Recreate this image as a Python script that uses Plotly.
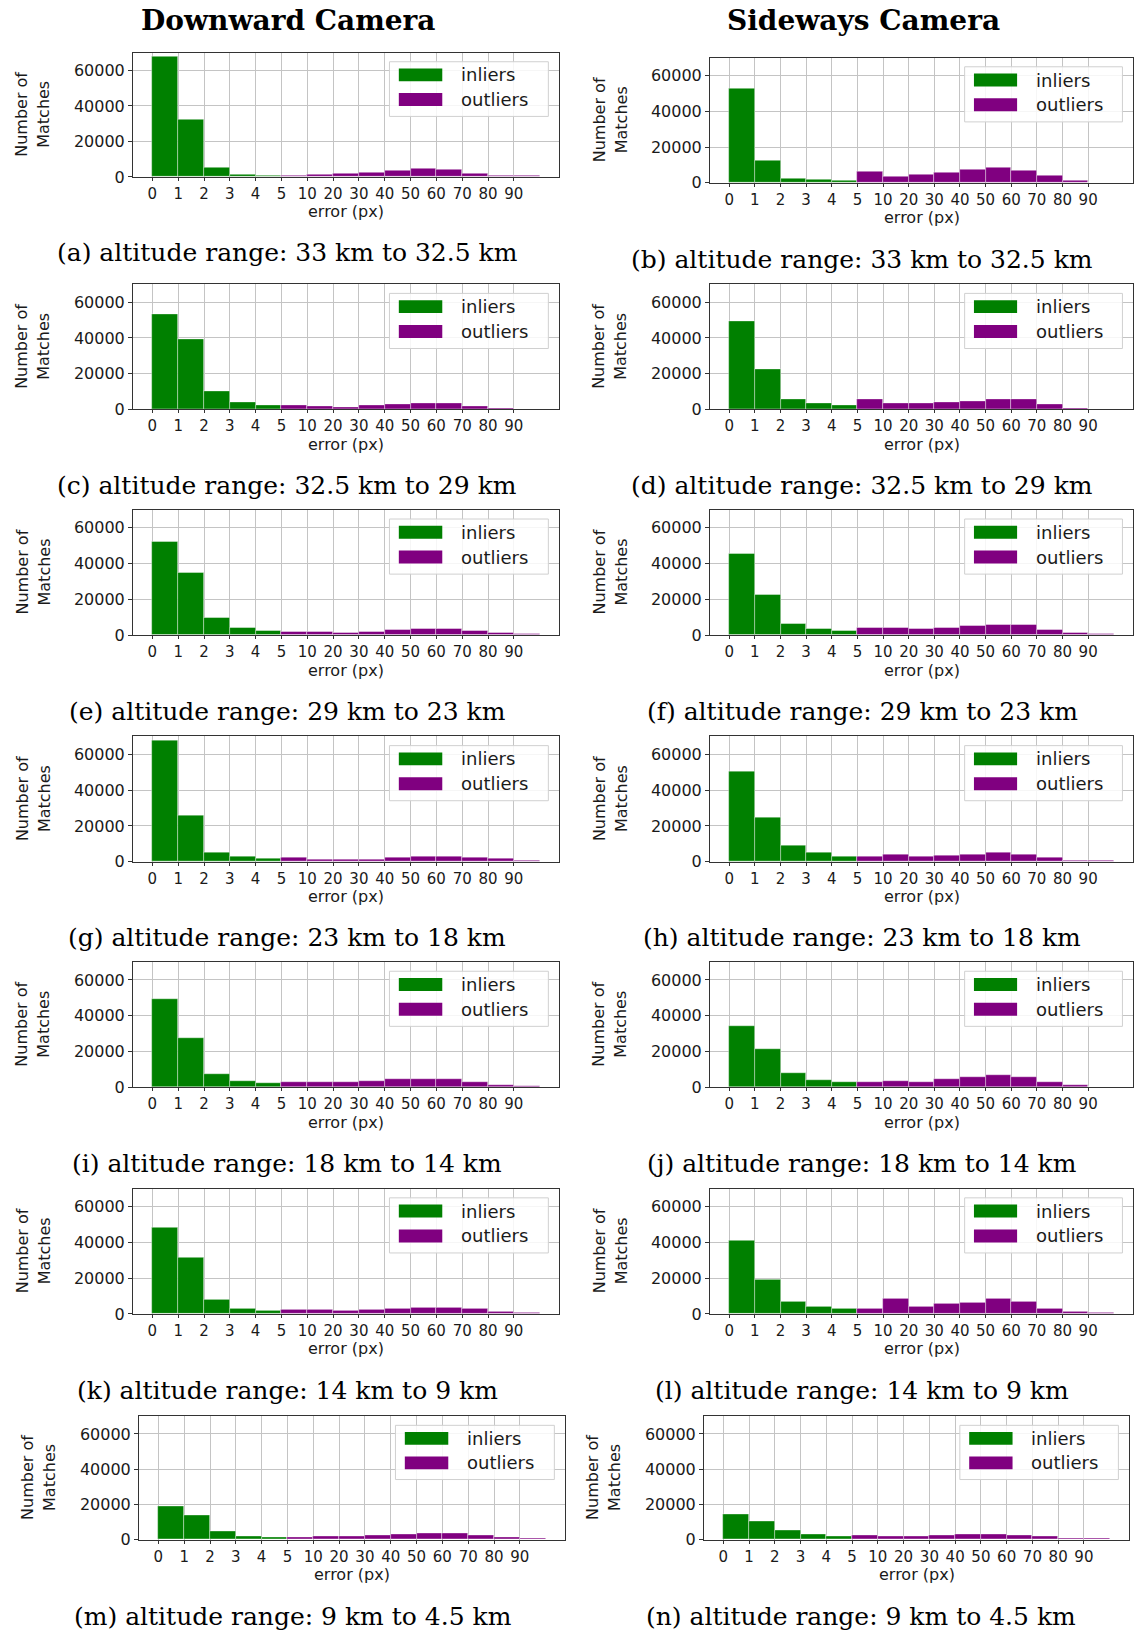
import plotly.graph_objects as go

W, H = 1135, 1642

# ---------------- data ----------------
bin_labels = ["0", "1", "2", "3", "4", "5", "10", "20", "30", "40", "50", "60", "70", "80", "90"]

inliers_a = [67600, 32500, 5450, 1500, 950]
outliers_a = [950, 1500, 2050, 2650, 3400, 4500, 3950, 2050, 950, 550]
inliers_b = [52900, 12300, 2600, 1700, 1500]
outliers_b = [6150, 3750, 4650, 5600, 7500, 8600, 6900, 4100, 1100, 0]
inliers_c = [53450, 39250, 10450, 4100, 2250]
outliers_c = [2250, 1700, 1100, 2250, 2800, 3350, 3350, 1700, 750, 250]
inliers_d = [49500, 22250, 6000, 3550, 2250]
outliers_d = [5600, 3550, 3550, 4100, 4650, 6000, 5600, 2800, 750, 150]
inliers_e = [52350, 34750, 9550, 4100, 2250]
outliers_e = [1700, 1700, 1100, 1700, 2800, 3750, 3750, 2250, 1100, 750]
inliers_f = [45600, 22250, 6550, 3550, 2250]
outliers_f = [4100, 4100, 3550, 4100, 5050, 6000, 5600, 2800, 1100, 750]
inliers_g = [67500, 25600, 5050, 2800, 1700]
outliers_g = [2250, 1100, 1100, 1100, 2250, 3200, 3200, 2600, 1700, 550]
inliers_h = [50450, 24650, 8950, 5050, 3200]
outliers_h = [3200, 4100, 2800, 3750, 4100, 5050, 4100, 2250, 750, 550]
inliers_i = [49550, 27500, 7650, 3550, 2250]
outliers_i = [3200, 3200, 2800, 3750, 4650, 4650, 4650, 2800, 1100, 750]
inliers_j = [34000, 21100, 8050, 4100, 2800]
outliers_j = [3200, 3750, 3200, 4650, 5600, 6750, 5600, 2800, 1300, 0]
inliers_k = [48050, 31400, 8050, 2800, 1700]
outliers_k = [2250, 2250, 1700, 2250, 2800, 3750, 3750, 2800, 1100, 550]
inliers_l = [40750, 19250, 7100, 4100, 2800]
outliers_l = [3200, 8600, 4100, 5600, 6550, 8600, 7100, 3200, 1300, 750]
inliers_m = [19050, 13750, 4550, 2100, 1150]
outliers_m = [1500, 2100, 2100, 2450, 3000, 3400, 3400, 2650, 1500, 550]
inliers_n = [14150, 10400, 5450, 3000, 2100]
outliers_n = [2650, 2100, 2100, 2650, 3000, 3000, 2650, 1700, 750, 550]

captions = {
    "a": "(a) altitude range: 33 km to 32.5 km",
    "b": "(b) altitude range: 33 km to 32.5 km",
    "c": "(c) altitude range: 32.5 km to 29 km",
    "d": "(d) altitude range: 32.5 km to 29 km",
    "e": "(e) altitude range: 29 km to 23 km",
    "f": "(f) altitude range: 29 km to 23 km",
    "g": "(g) altitude range: 23 km to 18 km",
    "h": "(h) altitude range: 23 km to 18 km",
    "i": "(i) altitude range: 18 km to 14 km",
    "j": "(j) altitude range: 18 km to 14 km",
    "k": "(k) altitude range: 14 km to 9 km",
    "l": "(l) altitude range: 14 km to 9 km",
    "m": "(m) altitude range: 9 km to 4.5 km",
    "n": "(n) altitude range: 9 km to 4.5 km",
}
column_titles = ["Downward Camera", "Sideways Camera"]

panels = [
    ("a", inliers_a, outliers_a), ("b", inliers_b, outliers_b),
    ("c", inliers_c, outliers_c), ("d", inliers_d, outliers_d),
    ("e", inliers_e, outliers_e), ("f", inliers_f, outliers_f),
    ("g", inliers_g, outliers_g), ("h", inliers_h, outliers_h),
    ("i", inliers_i, outliers_i), ("j", inliers_j, outliers_j),
    ("k", inliers_k, outliers_k), ("l", inliers_l, outliers_l),
    ("m", inliers_m, outliers_m), ("n", inliers_n, outliers_n),
]

# ---------------- layout geometry (pixels) ----------------
row_y = [(53, 178), (286, 412), (513, 639), (741, 867), (968, 1094), (1196, 1322), (1425, 1549)]
right_row_y = [(58, 184)] + row_y[1:]
left_x = [(133, 559)] * 6 + [(139, 565)]
right_x = [(710, 1133)] * 6 + [(704, 1129)]
cap_y_left = [254, 488, 716, 943, 1171, 1399, 1626]
cap_y_right = [261, 488, 716, 943, 1171, 1399, 1626]
cap_x_left = [287] * 6 + [293]
cap_x_right = [862] * 6 + [861]

GREEN = "#008000"
PURPLE = "#800080"
TXT = "#1a1a1a"
SANS = "DejaVu Sans"
SERIF = "DejaVu Serif"


def px_x(v):
    return v / W


def px_y(v):
    return 1 - v / H


fig = go.Figure()
layout = dict(
    width=W, height=H, autosize=False,
    margin=dict(l=0, r=0, t=0, b=0),
    paper_bgcolor="white", plot_bgcolor="white",
    showlegend=False, barmode="overlay", bargap=0,
)
annotations = []
shapes = []

for idx, (key, inl, outl) in enumerate(panels):
    n = idx + 1
    row, col = idx // 2, idx % 2
    xs = left_x[row] if col == 0 else right_x[row]
    ys = row_y[row] if col == 0 else right_row_y[row]
    xa = "x" if n == 1 else f"x{n}"
    ya = "y" if n == 1 else f"y{n}"
    xkey = "xaxis" if n == 1 else f"xaxis{n}"
    ykey = "yaxis" if n == 1 else f"yaxis{n}"

    fig.add_trace(go.Bar(
        x=[i + 0.5 for i in range(len(inl))], y=inl, width=1,
        marker=dict(color=GREEN, line=dict(color="rgba(255,255,255,0.55)", width=0.7)),
        xaxis=xa, yaxis=ya, name="inliers",
    ))
    fig.add_trace(go.Bar(
        x=[len(inl) + i + 0.5 for i in range(len(outl))], y=outl, width=1,
        marker=dict(color=PURPLE, line=dict(color="rgba(255,255,255,0.55)", width=0.7)),
        xaxis=xa, yaxis=ya, name="outliers",
    ))

    layout[xkey] = dict(
        domain=[px_x(xs[0]), px_x(xs[1])], anchor=ya,
        range=[-0.75, 15.75], tickmode="array",
        tickvals=list(range(len(bin_labels))), ticktext=bin_labels,
        showgrid=True, gridcolor="#c4c4c4", gridwidth=1,
        showline=True, linecolor="#333333", linewidth=1, mirror=True,
        ticks="outside", ticklen=3, tickcolor="#333333",
        tickfont=dict(family=SANS, size=15, color=TXT),
        zeroline=False, fixedrange=True,
    )
    layout[ykey] = dict(
        domain=[px_y(ys[1]), px_y(ys[0])], anchor=xa,
        range=[0, 70000], tickmode="array",
        tickvals=[0, 20000, 40000, 60000], ticktext=["0", "20000", "40000", "60000"],
        showgrid=True, gridcolor="#c4c4c4", gridwidth=1,
        showline=True, linecolor="#333333", linewidth=1, mirror=True,
        ticks="outside", ticklen=4, tickcolor="#333333",
        tickfont=dict(family=SANS, size=16, color=TXT),
        zeroline=False, fixedrange=True,
    )

    xd = f"{xa} domain"
    yd = f"{ya} domain"
    # y axis title (two lines)
    for txt, shift in (("Number of", -111), ("Matches", -89)):
        annotations.append(dict(
            text=txt, xref=xd, yref=yd, x=0, y=0.5, xshift=shift,
            textangle=-90, showarrow=False, xanchor="center", yanchor="middle",
            font=dict(family=SANS, size=16, color=TXT),
        ))
    # x axis title
    annotations.append(dict(
        text="error (px)", xref=xd, yref=yd, x=0.5, y=0, yshift=-35,
        showarrow=False, xanchor="center", yanchor="middle",
        font=dict(family=SANS, size=16, color=TXT),
    ))
    # legend box
    shapes.append(dict(
        type="rect", xref=xd, yref=yd, x0=0.602, x1=0.975, y0=0.487, y1=0.927,
        line=dict(color="#d0d0d0", width=1), fillcolor="rgba(255,255,255,0.85)", layer="above",
    ))
    for (label, color, y0, y1) in (("inliers", GREEN, 0.77, 0.873), ("outliers", PURPLE, 0.571, 0.675)):
        shapes.append(dict(
            type="rect", xref=xd, yref=yd, x0=0.624, x1=0.726, y0=y0, y1=y1,
            line=dict(width=0), fillcolor=color, layer="above",
        ))
        annotations.append(dict(
            text=label, xref=xd, yref=yd, x=0.765, y=(y0 + y1) / 2,
            showarrow=False, xanchor="left", yanchor="middle",
            font=dict(family=SANS, size=18, color=TXT),
        ))
    # caption
    cx = cap_x_left[row] if col == 0 else cap_x_right[row]
    cy = cap_y_left[row] if col == 0 else cap_y_right[row]
    annotations.append(dict(
        text=captions[key], xref="paper", yref="paper", x=px_x(cx), y=px_y(cy),
        showarrow=False, xanchor="center", yanchor="middle",
        font=dict(family=SERIF, size=25, color="black"),
    ))

for title, cx in zip(column_titles, (288, 863)):
    annotations.append(dict(
        text=f"<b>{title}</b>", xref="paper", yref="paper", x=px_x(cx), y=px_y(21),
        showarrow=False, xanchor="center", yanchor="middle",
        font=dict(family=SERIF, size=28, color="black"),
    ))

layout["annotations"] = annotations
layout["shapes"] = shapes
fig.update_layout(**layout)
fig.write_html("out.html")
